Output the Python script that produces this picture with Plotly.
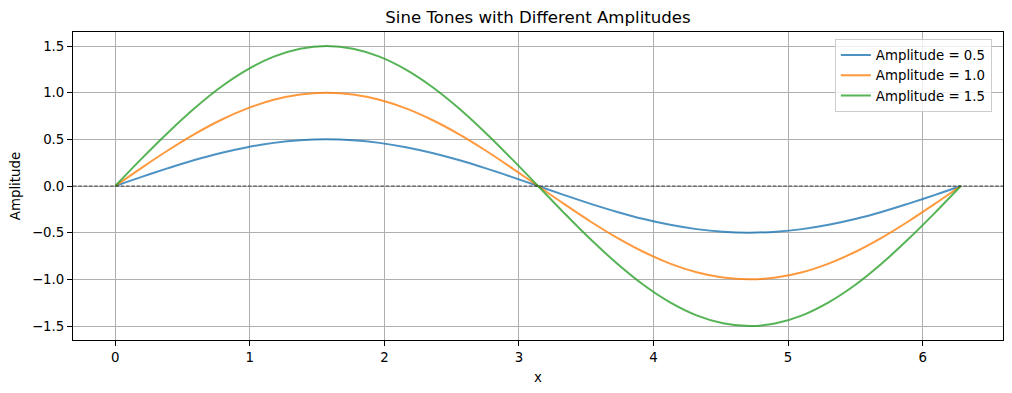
import plotly.graph_objects as go

# x samples (radians) at steps of ~pi/16
x_vals = [0.0, 0.196, 0.393, 0.589, 0.785, 0.982, 1.178, 1.374, 1.571,
          1.767, 1.963, 2.160, 2.356, 2.553, 2.749, 2.945, 3.142,
          3.338, 3.534, 3.731, 3.927, 4.123, 4.320, 4.516, 4.712,
          4.909, 5.105, 5.301, 5.498, 5.694, 5.890, 6.087, 6.283]
amp_05 = [0.0, 0.098, 0.191, 0.278, 0.354, 0.416, 0.462, 0.490, 0.500,
          0.490, 0.462, 0.416, 0.354, 0.278, 0.191, 0.098, 0.0,
          -0.098, -0.191, -0.278, -0.354, -0.416, -0.462, -0.490, -0.500,
          -0.490, -0.462, -0.416, -0.354, -0.278, -0.191, -0.098, 0.0]
amp_10 = [0.0, 0.195, 0.383, 0.556, 0.707, 0.831, 0.924, 0.981, 1.000,
          0.981, 0.924, 0.831, 0.707, 0.556, 0.383, 0.195, 0.0,
          -0.195, -0.383, -0.556, -0.707, -0.831, -0.924, -0.981, -1.000,
          -0.981, -0.924, -0.831, -0.707, -0.556, -0.383, -0.195, 0.0]
amp_15 = [0.0, 0.293, 0.574, 0.833, 1.061, 1.247, 1.386, 1.471, 1.500,
          1.471, 1.386, 1.247, 1.061, 0.833, 0.574, 0.293, 0.0,
          -0.293, -0.574, -0.833, -1.061, -1.247, -1.386, -1.471, -1.500,
          -1.471, -1.386, -1.247, -1.061, -0.833, -0.574, -0.293, 0.0]
series_names = ["Amplitude = 0.5", "Amplitude = 1.0", "Amplitude = 1.5"]
colors = ["rgba(31,119,180,0.8)", "rgba(255,127,14,0.8)", "rgba(44,160,44,0.8)"]
x_ticks = [0, 1, 2, 3, 4, 5, 6]
y_ticks = [-1.5, -1.0, -0.5, 0.0, 0.5, 1.0, 1.5]

fig = go.Figure()
for name, ys, c in zip(series_names, [amp_05, amp_10, amp_15], colors):
    fig.add_trace(go.Scatter(x=x_vals, y=ys, mode="lines", name=name,
                             line=dict(color=c, width=2, shape="spline", smoothing=1.0)))

fig.add_shape(type="line", xref="paper", x0=0, x1=1, yref="y", y0=0, y1=0,
              line=dict(color="black", width=0.7, dash="3.7px,1.6px"), layer="above")

font = dict(family="DejaVu Sans", size=13.33, color="black")
axis_common = dict(showline=True, linecolor="black", linewidth=1, mirror=True,
                   ticks="outside", ticklen=5, tickwidth=1, tickcolor="black",
                   showgrid=True, gridcolor="#b0b0b0", gridwidth=1, zeroline=False,
                   tickfont=font)
fig.update_layout(
    width=1012, height=393,
    margin=dict(l=73, r=9, t=32, b=53),
    paper_bgcolor="white", plot_bgcolor="white",
    font=font,
    title=dict(text="Sine Tones with Different Amplitudes", x=0.5, xref="paper",
               xanchor="center", y=1 - 17 / 393, yref="container", yanchor="middle",
               font=dict(family="DejaVu Sans", size=16.6, color="black")),
    xaxis=dict(range=[-0.314, 6.597], tickvals=x_ticks, ticktext=[str(t) for t in x_ticks],
               title=dict(text="x", font=font, standoff=8), **axis_common),
    yaxis=dict(range=[-1.65, 1.65], tickvals=y_ticks,
               ticktext=[f"{t:.1f}".replace("-", "\u2212") for t in y_ticks],
               title=dict(text="Amplitude", font=font, standoff=8), **axis_common),
    legend=dict(x=0.988, xanchor="right", y=0.978, yanchor="top",
                bgcolor="rgba(255,255,255,0.8)", bordercolor="#cccccc", borderwidth=1,
                font=font, tracegroupgap=0),
    showlegend=True,
)

fig.write_html("out.html", config={"displayModeBar": False},
               post_script="document.body.style.margin='0';document.body.style.padding='0';")
